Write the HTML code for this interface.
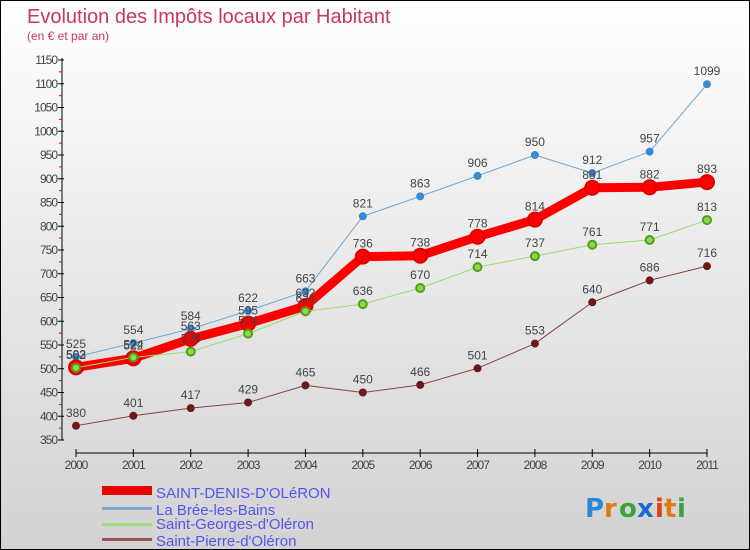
<!DOCTYPE html>
<html><head><meta charset="utf-8"><style>
body{margin:0;width:750px;height:550px;overflow:hidden;font-family:"Liberation Sans",sans-serif}
#wrap{position:relative;width:748px;height:548px;border:1px solid #000;background:linear-gradient(#fff,#d2d2d2)}
svg{position:absolute;left:0;top:0}
</style></head><body>
<div id="wrap">
<svg id="chart" width="748" height="548">
<text x="26" y="22" font-size="20" fill="#c8356a">Evolution des Impôts locaux par Habitant</text>
<text x="26" y="39" font-size="12" fill="#c8356a">(en € et par an)</text>
<g id="axes"></g><g id="series"></g>
<g font-size="15" fill="#5555ee">
<rect x="101" y="485" width="50" height="9" fill="#e00"/>
<text x="155" y="497">SAINT-DENIS-D'OLéRON</text>
<rect x="101" y="506" width="50" height="3" fill="#7aaad0"/>
<text x="155" y="514">La Brée-les-Bains</text>
<rect x="101" y="522" width="50" height="3" fill="#99dd77"/>
<text x="155" y="528">Saint-Georges-d'Oléron</text>
<rect x="101" y="537" width="50" height="3" fill="#995555"/>
<text x="155" y="545">Saint-Pierre-d'Oléron</text>
</g>
<g font-size="26" font-family="'DejaVu Sans',sans-serif" font-weight="bold">
<text x="584" y="516" fill="#2a8ad8">P</text><text x="603" y="516" fill="#e07a10">r</text><text x="618" y="516" fill="#3aa040">o</text><text x="636" y="516" fill="#1a6ad0">x</text><text x="654" y="516" fill="#e04010">i</text><text x="663" y="516" fill="#e07a10">t</text><text x="676" y="516" fill="#3aa040">i</text>
</g>
</svg></div>
<script>
const years=[2000,2001,2002,2003,2004,2005,2006,2007,2008,2009,2010,2011];
const yTicks=[350,400,450,500,550,600,650,700,750,800,850,900,950,1000,1050,1100,1150];
const saintDenis=[503,522,563,595,632,736,738,778,814,881,882,893];
const laBree=[525,554,584,622,663,821,863,906,950,912,957,1099];
const saintGeorges=[502,524,536,574,621,636,670,714,737,761,771,813];
const saintPierre=[380,401,417,429,465,450,466,501,553,640,686,716];
const NS="http://www.w3.org/2000/svg";
const X=i=>75+i*(706-75)/11;
const Y=v=>439-(v-350)*(380/800);
function mk(t,a,p){const e=document.createElementNS(NS,t);for(const k in a)e.setAttribute(k,a[k]);p.appendChild(e);return e;}
const ax=document.getElementById('axes');
mk('line',{x1:61,y1:57,x2:61,y2:439,stroke:'#000'},ax);
mk('line',{x1:75,y1:452,x2:706,y2:452,stroke:'#000'},ax);
yTicks.forEach((v,i)=>{const y=Y(v);
 mk('line',{x1:57,y1:y,x2:63,y2:y,stroke:'#000'},ax);
 const t=mk('text',{x:56,y:y+4,'text-anchor':'end','font-size':12,fill:'#444','letter-spacing':'-1'},ax);t.textContent=v;
 
 
 if(i<yTicks.length-1)mk('line',{x1:58,y1:Y(v+25),x2:61,y2:Y(v+25),stroke:'#e00'},ax);});
years.forEach((yr,i)=>{const x=X(i);
 mk('line',{x1:x,y1:448,x2:x,y2:456,stroke:'#000'},ax);
 const t=mk('text',{x:x,y:468,'text-anchor':'middle','font-size':12,fill:'#444','letter-spacing':'-1'},ax);t.textContent=yr;
 
 });
const sg=document.getElementById('series');
function draw(data,color,w,r,dot,name,stroke){
 const g=mk('g',{},sg);
 
 
 mk('polyline',{points:data.map((v,i)=>X(i)+','+Y(v)).join(' '),fill:'none',stroke:color,'stroke-width':w,'stroke-linejoin':'round'},g);
 data.forEach((v,i)=>{const c=mk('circle',{cx:X(i),cy:Y(v),r:r,fill:dot,stroke:stroke,'stroke-width':stroke?2:0},g);
  
  
  const t=mk('text',{x:X(i),y:Y(v)-9,'text-anchor':'middle','font-size':12,fill:'#444'},g);t.textContent=v;
  
  });
}
draw(saintPierre,'#884444',1,4,'#6b1a1a','series-saint-pierre');
draw(laBree,'#6aa8d8',1,4,'#3a8ad0','series-la-bree');
draw(saintDenis,'#ff0000',9,7,'#ff0000','series-saint-denis','#d00');
draw(saintGeorges,'#99dd66',1,4,'#88dd44','series-saint-georges','#559922');
</script></body></html>
